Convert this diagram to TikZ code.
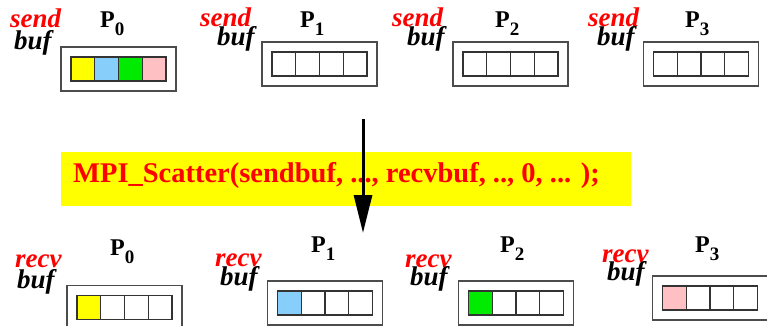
\documentclass[tikz,border=0pt]{standalone}
\usepackage{fontspec}
\setmainfont{Liberation Serif}
\usetikzlibrary{arrows.meta}

\definecolor{cyellow}{RGB}{255,255,0}
\definecolor{cblue}{RGB}{135,206,250}
\definecolor{cgreen}{RGB}{0,235,0}
\definecolor{cpink}{RGB}{255,192,196}
\definecolor{callred}{RGB}{255,0,0}

\tikzset{
  outerbox/.style={draw=black!70, line width=1.2pt, fill=white,
    minimum width=115pt, minimum height=44pt, inner sep=0pt, outer sep=0pt},
  cell/.style={draw=black!80, line width=1.1pt,
    minimum width=23.75pt, minimum height=24pt, inner sep=0pt, outer sep=0pt},
  bufname/.style={font=\fontsize{27}{27}\selectfont\bfseries\itshape,
    inner sep=0pt, anchor=base west},
  sendword/.style={bufname, text=callred},
  pname/.style={font=\fontsize{24}{24}\selectfont\bfseries,
    inner sep=0pt, anchor=base west},
  banner/.style={fill=cyellow, minimum width=570pt, minimum height=54pt,
    inner sep=0pt, anchor=north west},
  calltext/.style={font=\fontsize{28.5}{28.5}\selectfont\bfseries,
    text=callred, inner sep=0pt, anchor=base west},
  flow/.style={line width=3pt, -{Triangle[width=18pt,length=38pt]}}
}

% process name with a lowered subscript digit
\newcommand\procname[1]{P\raisebox{-8pt}{\fontsize{19}{19}\selectfont #1}}

% a buffer: outer frame plus four cells; #4 lists index/colour pairs
\newcommand\membuf[4]{%
  \node[outerbox] (#1) at (#2,#3) {};
  \foreach \i/\c in {#4}
    \node[cell, fill=\c] (#1c\i) at ([xshift={(\i-2.5)*23.75pt}]#1.center) {};
}

\begin{document}
\begin{tikzpicture}[x=1pt,y=-1pt]
\useasboundingbox (0,0) rectangle (767,326);

% send buffers
\membuf{sb0}{118.5}{69}{1/cyellow,2/cblue,3/cgreen,4/cpink}
\membuf{sb1}{319.5}{64}{1/white,2/white,3/white,4/white}
\membuf{sb2}{510.5}{64}{1/white,2/white,3/white,4/white}
\membuf{sb3}{701}{64}{1/white,2/white,3/white,4/white}

\node[sendword] (s0) at (10,28) {send};
\node[bufname]  (b0) at (14,50) {buf};
\node[sendword] (s1) at (200,27) {send};
\node[bufname]  (b1) at (217,46) {buf};
\node[sendword] (s2) at (392,27) {send};
\node[bufname]  (b2) at (407,46) {buf};
\node[sendword] (s3) at (588,27) {send};
\node[bufname]  (b3) at (597,46) {buf};

\node[pname] (tp0) at (100,28) {\procname{0}};
\node[pname] (tp1) at (300,28) {\procname{1}};
\node[pname] (tp2) at (495,28) {\procname{2}};
\node[pname] (tp3) at (685,28) {\procname{3}};

% the call
\node[banner] (bar) at (61,152) {};
\node[calltext] (call) at (73,182) {MPI\_Scatter(sendbuf, ..., recvbuf, .., 0, ... );};

\coordinate (src) at (363,119);
\coordinate (dst) at (363,233);
\draw[flow] (src) -- (dst);

% receive buffers
\membuf{rb0}{124.5}{307.5}{1/cyellow,2/white,3/white,4/white}
\membuf{rb1}{325}{303}{1/cblue,2/white,3/white,4/white}
\membuf{rb2}{516}{303}{1/cgreen,2/white,3/white,4/white}
\membuf{rb3}{710}{298}{1/cpink,2/white,3/white,4/white}

\node[sendword] (r0) at (15,267) {recv};
\node[bufname]  (q0) at (17,288) {buf};
\node[sendword] (r1) at (215,266) {recv};
\node[bufname]  (q1) at (220,285) {buf};
\node[sendword] (r2) at (405,267) {recv};
\node[bufname]  (q2) at (410,285) {buf};
\node[sendword] (r3) at (602,262) {recv};
\node[bufname]  (q3) at (607,280) {buf};

\node[pname] (bp0) at (110,255) {\procname{0}};
\node[pname] (bp1) at (311,252) {\procname{1}};
\node[pname] (bp2) at (500,252) {\procname{2}};
\node[pname] (bp3) at (695,252) {\procname{3}};
\end{tikzpicture}
\end{document}
